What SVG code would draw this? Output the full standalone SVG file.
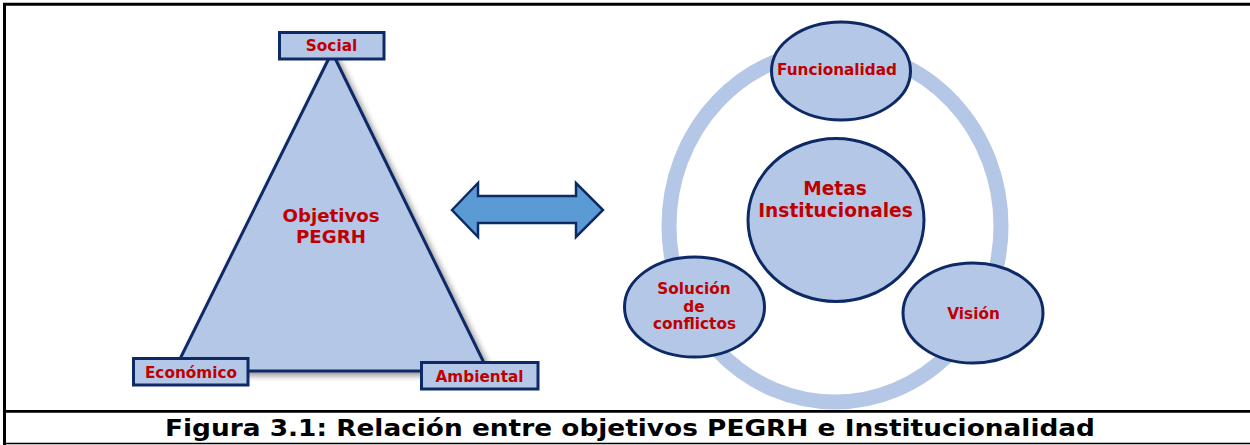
<svg xmlns="http://www.w3.org/2000/svg" width="1250" height="445" viewBox="0 0 1250 445">
  <defs>
    <filter id="shadow" x="-20%" y="-20%" width="140%" height="140%">
      <feGaussianBlur in="SourceAlpha" stdDeviation="3"/>
      <feOffset dx="3" dy="3" result="b"/>
      <feComponentTransfer><feFuncA type="linear" slope="0.45"/></feComponentTransfer>
      <feMerge><feMergeNode/><feMergeNode in="SourceGraphic"/></feMerge>
    </filter>
    <style>
      .shape { fill: #B4C7E7; stroke: #0E2A66; stroke-width: 3; }
      .lbl { font-family: "DejaVu Sans", Verdana, sans-serif; font-weight: bold; fill: #C00000; text-anchor: middle; }
      .frame { stroke: #000; fill: none; }
    </style>
  </defs>
  <rect width="1250" height="445" fill="#fff"/>

  <g id="frame">
    <line class="frame" x1="4.5" y1="3" x2="4.5" y2="445" stroke-width="3"/>
    <line class="frame" x1="3" y1="4.3" x2="1250" y2="4.3" stroke-width="3"/>
    <line class="frame" x1="3" y1="411.3" x2="1250" y2="411.3" stroke-width="2.8"/>
    <line class="frame" x1="3" y1="443.5" x2="1250" y2="443.5" stroke-width="1.6"/>
  </g>

  <g id="triangle">
    <polygon class="shape" points="332,52 174,371 488,371" filter="url(#shadow)"/>
    <text class="lbl" x="331" y="222" font-size="18.2">Objetivos</text>
    <text class="lbl" x="331" y="243" font-size="18.2">PEGRH</text>
  </g>

  <g id="social">
    <rect class="shape" x="279.5" y="32.5" width="104.5" height="26.5" stroke-width="2.8"/>
    <text class="lbl" x="331.5" y="50.5" font-size="15.3">Social</text>
  </g>
  <g id="economico">
    <rect class="shape" x="133.5" y="358.5" width="114.5" height="26.5" stroke-width="2.8"/>
    <text class="lbl" x="191" y="378" font-size="15.3">Económico</text>
  </g>
  <g id="ambiental">
    <rect class="shape" x="421.5" y="362.5" width="116.5" height="26.5" stroke-width="2.8"/>
    <text class="lbl" x="479.5" y="382" font-size="15.3">Ambiental</text>
  </g>

  <g id="connectors">
    <polygon points="452,210 478,183 478,196 576,196 576,183 603,210 576,237 576,223 478,223 478,237" fill="#5B9BD5" stroke="#0E2A66" stroke-width="2.5" stroke-linejoin="miter"/>
  </g>

  <g id="ring">
    <ellipse cx="835" cy="226" rx="166" ry="176" fill="none" stroke="#B4C7E7" stroke-width="15"/>
  </g>

  <g id="metas">
    <ellipse class="shape" cx="836" cy="220" rx="88" ry="81.5"/>
    <text class="lbl" x="835" y="195" font-size="18.6">Metas</text>
    <text class="lbl" x="835.5" y="217" font-size="18.6">Institucionales</text>
  </g>

  <g id="funcionalidad">
    <ellipse class="shape" cx="841" cy="71" rx="69.5" ry="49"/>
    <text class="lbl" x="837" y="75" font-size="15.8" textLength="120" lengthAdjust="spacingAndGlyphs">Funcionalidad</text>
  </g>

  <g id="solucion">
    <ellipse class="shape" cx="694.5" cy="307" rx="70" ry="50"/>
    <text class="lbl" x="694" y="294" font-size="15.3">Solución</text>
    <text class="lbl" x="694" y="312" font-size="15.3">de</text>
    <text class="lbl" x="694.5" y="329" font-size="15.3">conflictos</text>
  </g>

  <g id="vision">
    <ellipse class="shape" cx="973" cy="313" rx="70" ry="50"/>
    <text class="lbl" x="973.5" y="319" font-size="15.3">Visión</text>
  </g>

  <g id="caption">
    <text x="630" y="436" font-family="DejaVu Sans, Verdana, sans-serif" font-weight="bold" font-size="23.5" fill="#000" text-anchor="middle" textLength="930" lengthAdjust="spacingAndGlyphs">Figura 3.1: Relación entre objetivos PEGRH e Institucionalidad</text>
  </g>
</svg>
